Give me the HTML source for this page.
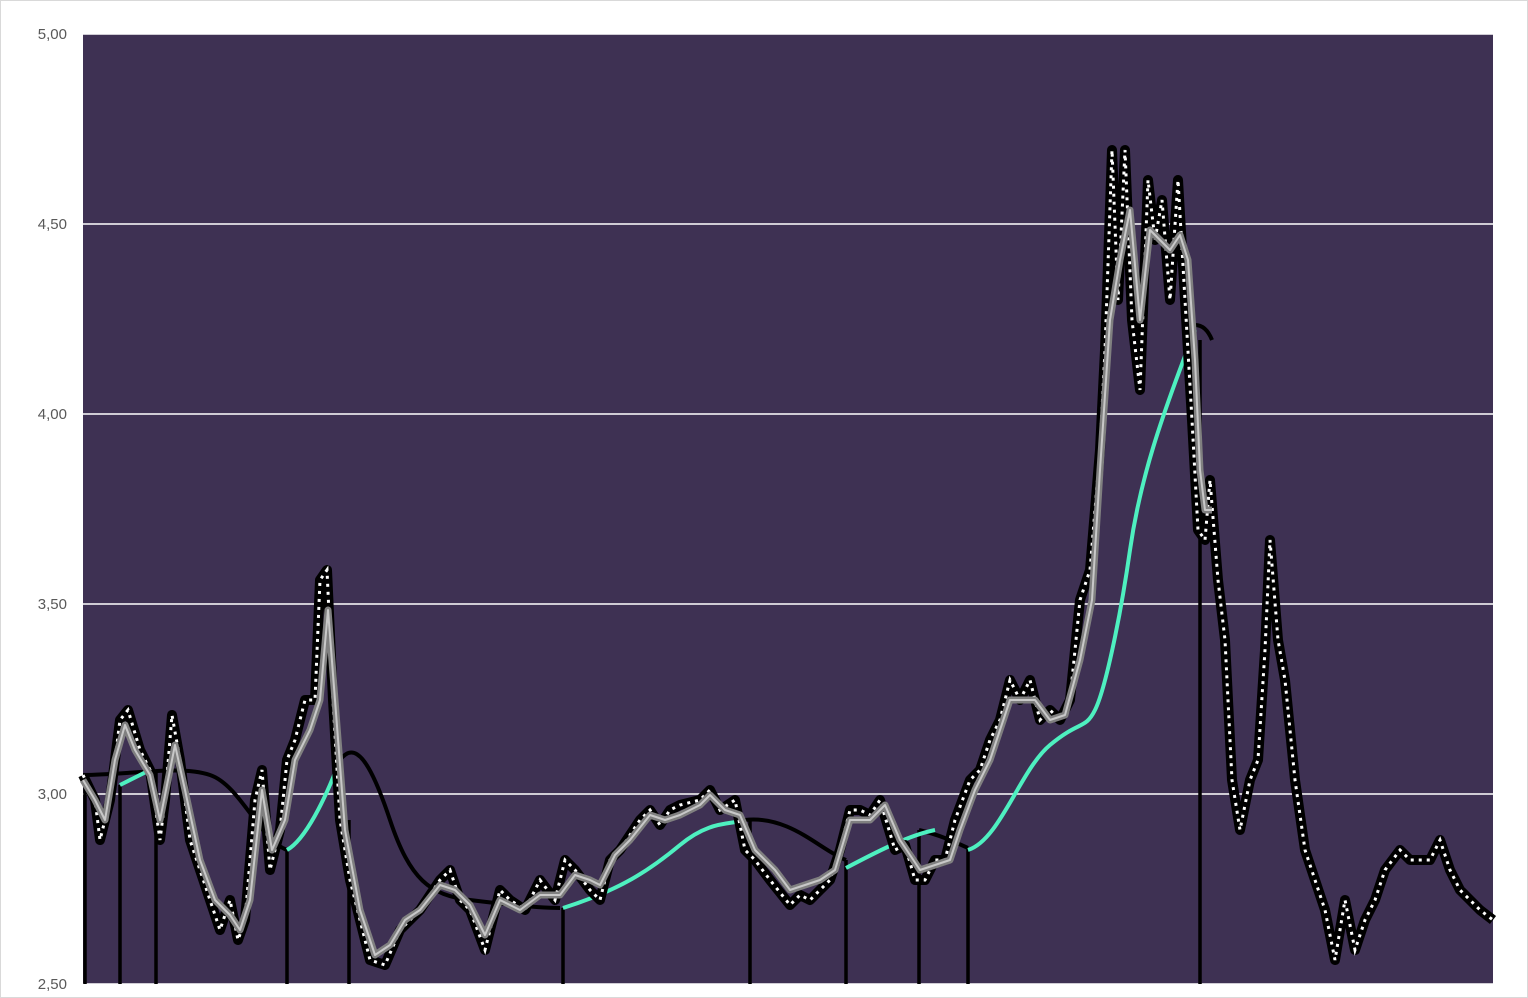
<!DOCTYPE html>
<html><head><style>
html,body{margin:0;padding:0;background:#fff;}
svg{display:block;font-family:"Liberation Sans",sans-serif;}
</style></head><body>
<svg width="1528" height="998" viewBox="0 0 1528 998">
<defs>
<path id="p" d="M83,775 L95,800 100,840 110,800 120,720 128,710 140,750 150,770 160,840 165,800 172,715 180,760 190,840 200,870 210,900 220,930 230,900 238,940 245,920 255,800 262,770 270,870 280,830 287,760 295,740 305,700 315,700 320,580 327,570 333,700 340,820 350,880 360,920 370,960 385,965 400,930 420,910 440,880 450,870 460,900 470,910 485,950 500,890 510,900 525,910 540,880 555,900 565,860 575,870 590,890 600,900 610,860 620,850 640,820 650,810 660,825 670,810 680,805 700,800 710,790 720,810 735,800 745,850 755,860 770,880 790,905 800,895 810,900 820,890 830,880 840,850 850,810 860,810 870,815 880,800 895,850 905,845 915,880 925,880 935,860 945,860 955,820 970,780 980,770 990,740 1000,720 1010,680 1020,700 1030,680 1040,720 1050,710 1060,720 1070,700 1080,600 1090,570 1100,450 1105,350 1112,150 1118,300 1125,150 1132,320 1140,390 1148,180 1155,240 1162,200 1170,300 1178,180 1185,300 1192,420 1198,530 1205,540 1210,480 1218,580 1225,640 1232,780 1240,830 1250,780 1258,760 1265,650 1270,540 1278,640 1285,680 1295,780 1305,850 1315,880 1325,910 1335,960 1345,900 1355,950 1365,920 1375,900 1385,870 1400,850 1410,860 1420,860 1430,860 1440,840 1450,870 1460,890 1470,900 1480,910 1493,920"/>
<path id="g" d="M83,780 L95,800 105,820 115,760 125,725 135,750 150,775 160,820 175,745 185,790 200,860 215,900 230,915 240,930 250,900 262,790 272,850 285,820 295,760 310,730 320,700 328,610 335,700 345,830 360,910 375,955 390,945 405,920 420,910 440,885 455,890 470,905 485,935 500,900 520,910 540,895 560,895 575,875 590,880 600,885 615,855 630,840 650,815 665,820 680,815 700,805 710,795 725,810 740,815 755,850 775,870 790,890 805,885 820,880 835,870 850,820 870,820 885,805 900,840 920,870 935,865 950,860 960,830 975,790 990,760 1000,730 1010,700 1020,700 1035,700 1050,720 1065,715 1080,660 1092,600 1100,470 1110,320 1120,260 1130,210 1140,320 1150,230 1160,240 1170,250 1180,235 1188,260 1195,360 1200,470 1205,510 1212,510"/>
</defs>
<rect x="0.5" y="0.5" width="1527" height="997" fill="#fff" stroke="#d9d9d9"/>
<rect x="83" y="34" width="1410" height="950" fill="#3e3153"/>
<g stroke="#fff" stroke-width="1.5">
<line x1="83" y1="34" x2="1493" y2="34"/><line x1="83" y1="224" x2="1493" y2="224"/>
<line x1="83" y1="414" x2="1493" y2="414"/><line x1="83" y1="604" x2="1493" y2="604"/>
<line x1="83" y1="794" x2="1493" y2="794"/><line x1="83" y1="984" x2="1493" y2="984"/>
</g>
<g fill="#595959" font-size="15" text-anchor="end">
<text x="67" y="39">5,00</text><text x="67" y="229">4,50</text><text x="67" y="419">4,00</text>
<text x="67" y="609">3,50</text><text x="67" y="799">3,00</text><text x="67" y="989">2,50</text>
</g>
<g stroke="#000" stroke-width="3.5">
<line x1="85" y1="775" x2="85" y2="984"/><line x1="120" y1="785" x2="120" y2="984"/>
<line x1="156" y1="770" x2="156" y2="984"/><line x1="287" y1="850" x2="287" y2="984"/>
<line x1="349" y1="820" x2="349" y2="984"/><line x1="563" y1="908" x2="563" y2="984"/>
<line x1="750" y1="820" x2="750" y2="984"/><line x1="846" y1="860" x2="846" y2="984"/>
<line x1="919" y1="830" x2="919" y2="984"/><line x1="968" y1="848" x2="968" y2="984"/>
<line x1="1200" y1="340" x2="1200" y2="984"/>
</g>
<g fill="none" stroke="#000" stroke-width="4">
<path d="M83,775 C130,775 180,765 210,775 S260,840 287,850"/>
<path d="M340,760 C355,740 370,760 390,820 S430,895 470,900 S540,908 560,908"/>
<path d="M745,820 C790,815 820,850 846,860"/>
<path d="M919,830 C940,835 955,842 968,848"/>
<path d="M1195,325 C1205,325 1210,335 1212,340"/>
</g>
<g fill="none" stroke="#4ef0c0" stroke-width="4">
<path d="M120,785 L150,770"/>
<path d="M287,850 C305,840 325,800 340,760"/>
<path d="M563,908 C620,890 650,870 680,845 S730,825 745,820"/>
<path d="M846,868 C880,850 910,835 935,830"/>
<path d="M968,850 C1000,840 1020,770 1050,745 S1085,730 1095,710 S1120,620 1130,550 S1160,420 1195,330"/>
</g>
<use href="#p" fill="none" stroke="#000" stroke-width="10" stroke-linejoin="round"/>
<use href="#p" fill="none" stroke="#fff" stroke-width="3" stroke-dasharray="3 5"/>
<use href="#g" fill="none" stroke="#808080" stroke-width="7" stroke-linejoin="round"/>
<use href="#g" fill="none" stroke="#c8c8c8" stroke-width="2" stroke-linejoin="round"/>
</svg>
</body></html>
